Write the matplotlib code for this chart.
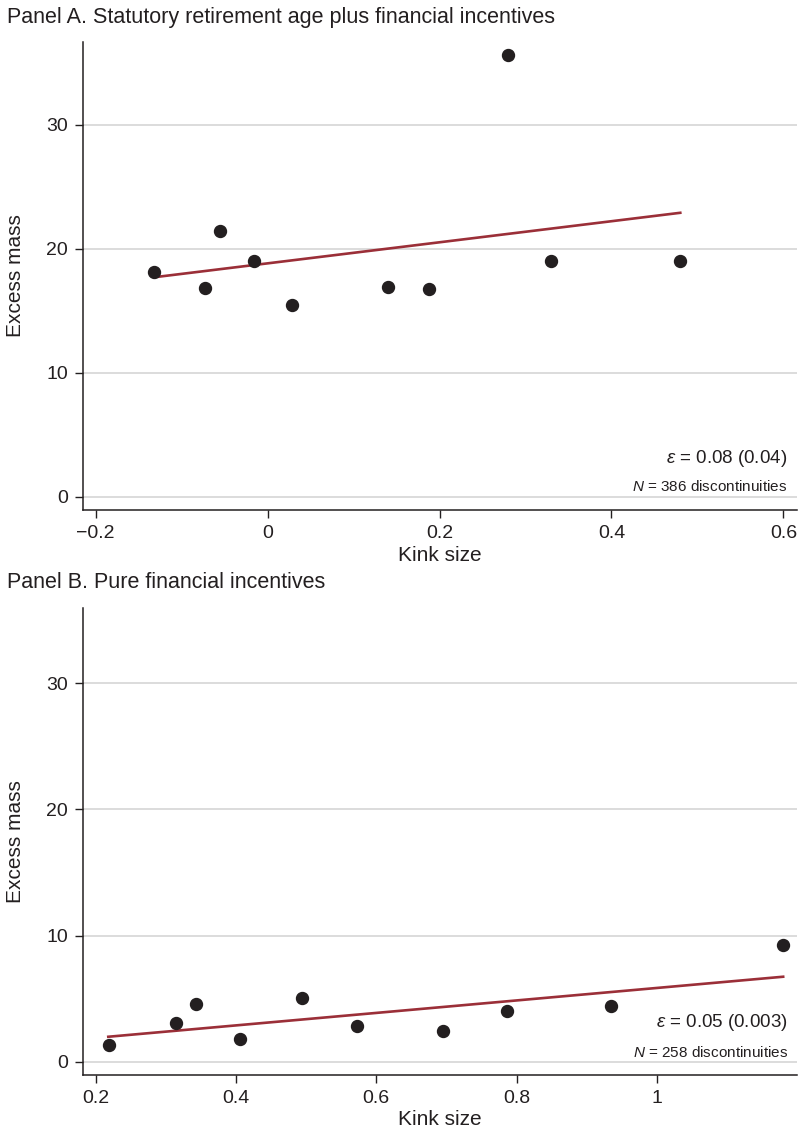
import matplotlib.pyplot as plt

plt.rcParams['font.family'] = ['Liberation Sans', 'DejaVu Sans']
plt.rcParams['mathtext.fontset'] = 'custom'
plt.rcParams['mathtext.rm'] = 'Liberation Sans'
plt.rcParams['mathtext.it'] = 'Liberation Sans:italic'

# Panel A: statutory retirement age plus financial incentives
kink_a = [-0.132, -0.073, -0.055, -0.016, 0.028, 0.140, 0.188, 0.280, 0.330, 0.480]
mass_a = [18.1, 16.8, 21.4, 19.05, 15.45, 16.95, 16.75, 35.65, 19.0, 19.0]
fit_x_a = [-0.132, 0.480]
fit_y_a = [17.7, 22.9]

# Panel B: pure financial incentives
kink_b = [0.219, 0.314, 0.343, 0.406, 0.494, 0.572, 0.695, 0.786, 0.934, 1.180]
mass_b = [1.30, 3.09, 4.60, 1.80, 5.02, 2.80, 2.43, 4.02, 4.44, 9.27]
fit_x_b = [0.218, 1.180]
fit_y_b = [1.98, 6.74]

yticks = [0, 10, 20, 30]
xticks_a = [-0.2, 0, 0.2, 0.4, 0.6]
xlabels_a = ['\u22120.2', '0', '0.2', '0.4', '0.6']
xticks_b = [0.2, 0.4, 0.6, 0.8, 1]
xlabels_b = ['0.2', '0.4', '0.6', '0.8', '1']

ink = '#231f20'
red = '#9b2f38'

fig = plt.figure(figsize=(7.98, 11.3), dpi=100)
ax_a = fig.add_axes([0.1036, 0.5487, 0.8954, 0.4144])
ax_b = fig.add_axes([0.1036, 0.0487, 0.8954, 0.4135])


def style(ax, xticks, xlabels, xlim, ylim):
    ax.set_xlim(*xlim)
    ax.set_ylim(*ylim)
    ax.set_xticks(xticks)
    ax.set_xticklabels(xlabels)
    ax.set_yticks(yticks)
    for y in yticks:
        ax.axhline(y, color='#d6d6d6', lw=1.2, zorder=0)
    for s in ['top', 'right']:
        ax.spines[s].set_visible(False)
    for s in ['left', 'bottom']:
        ax.spines[s].set_linewidth(1.1)
        ax.spines[s].set_color(ink)
    ax.tick_params(axis='both', direction='out', length=5.5, width=1.0,
                   color=ink, labelsize=14, labelcolor=ink, pad=5)
    ax.set_xlabel('Kink size', fontsize=15, color=ink)
    ax.set_ylabel('Excess mass', fontsize=15, color=ink)
    ax.xaxis.set_label_coords(0.5, -0.076)
    ax.yaxis.set_label_coords(-0.081, 0.5)


style(ax_a, xticks_a, xlabels_a, (-0.2151, 0.616), (-1.07, 36.7))
style(ax_b, xticks_b, xlabels_b, (0.1815, 1.2), (-1.05, 36.0))

for ax, kx, my, fx, fy in [(ax_a, kink_a, mass_a, fit_x_a, fit_y_a),
                           (ax_b, kink_b, mass_b, fit_x_b, fit_y_b)]:
    ax.plot(fx, fy, color=red, lw=1.9, zorder=2)
    ax.plot(kx, my, 'o', color=ink, markersize=8.6, zorder=3)

ax_a.text(0.9856, 0.101, r'$\varepsilon$ = 0.08 (0.04)', transform=ax_a.transAxes,
          ha='right', va='baseline', fontsize=13.5, color=ink)
ax_a.text(0.9856, 0.041, r'$N$ = 386 discontinuities', transform=ax_a.transAxes,
          ha='right', va='baseline', fontsize=11, color=ink)
ax_b.text(0.9870, 0.1034, r'$\varepsilon$ = 0.05 (0.003)', transform=ax_b.transAxes,
          ha='right', va='baseline', fontsize=13.5, color=ink)
ax_b.text(0.9870, 0.039, r'$N$ = 258 discontinuities', transform=ax_b.transAxes,
          ha='right', va='baseline', fontsize=11, color=ink)

fig.text(0.009, 0.9796, 'Panel A. Statutory retirement age plus financial incentives',
         ha='left', va='baseline', fontsize=15.5, color=ink)
fig.text(0.009, 0.4794, 'Panel B. Pure financial incentives',
         ha='left', va='baseline', fontsize=15.5, color=ink)

fig.savefig('out.png', dpi=100)
